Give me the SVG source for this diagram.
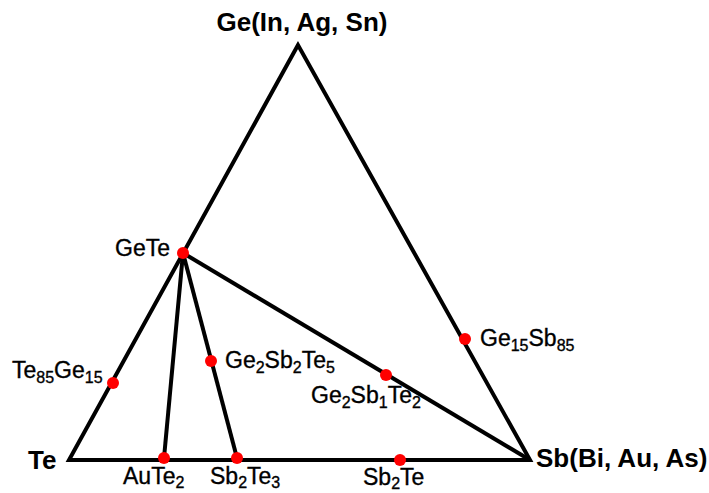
<svg xmlns="http://www.w3.org/2000/svg" width="709" height="493" viewBox="0 0 709 493">
<style>
.ln{stroke:#000;stroke-width:4;fill:none;stroke-linejoin:miter}
.dot{fill:#ff0000}
.b{font-family:"Liberation Sans",Arial,sans-serif;font-weight:bold;font-size:26px;fill:#000}
.t{font-family:"Liberation Sans",Arial,sans-serif;font-size:23px;fill:#000;stroke:#000;stroke-width:0.35}
.s{font-size:16px}
</style>
<rect width="709" height="493" fill="#fff"/>
<g id="connectors">
<polygon class="ln" points="298,45 69,460 530,460"/>
<line class="ln" x1="183" y1="253" x2="164" y2="458"/>
<line class="ln" x1="183" y1="253" x2="237" y2="458"/>
<line class="ln" x1="183" y1="253" x2="530" y2="460"/>
</g>
<g id="Ge"><text class="b" x="302" y="31" text-anchor="middle">Ge(In, Ag, Sn)</text></g>
<g id="Te"><text class="b" x="28" y="469">Te</text></g>
<g id="Sb"><text class="b" x="536" y="467">Sb(Bi, Au, As)</text></g>
<g id="GeTe"><circle class="dot" cx="183" cy="253" r="6"/><text class="t" x="115" y="256">GeTe</text></g>
<g id="Te85Ge15"><circle class="dot" cx="113" cy="383" r="6"/><text class="t" x="12" y="378">Te<tspan class="s" dy="5">85</tspan><tspan dy="-5">Ge</tspan><tspan class="s" dy="5">15</tspan></text></g>
<g id="Ge2Sb2Te5"><circle class="dot" cx="211" cy="361" r="6"/><text class="t" x="225" y="368">Ge<tspan class="s" dy="5">2</tspan><tspan dy="-5">Sb</tspan><tspan class="s" dy="5">2</tspan><tspan dy="-5">Te</tspan><tspan class="s" dy="5">5</tspan></text></g>
<g id="Ge2Sb1Te2"><circle class="dot" cx="386" cy="375" r="6"/><text class="t" x="311" y="403">Ge<tspan class="s" dy="5">2</tspan><tspan dy="-5">Sb</tspan><tspan class="s" dy="5">1</tspan><tspan dy="-5">Te</tspan><tspan class="s" dy="5">2</tspan></text></g>
<g id="Ge15Sb85"><circle class="dot" cx="465" cy="339" r="6"/><text class="t" x="480" y="346">Ge<tspan class="s" dy="5">15</tspan><tspan dy="-5">Sb</tspan><tspan class="s" dy="5">85</tspan></text></g>
<g id="AuTe2"><circle class="dot" cx="164" cy="458" r="6"/><text class="t" x="123" y="484">AuTe<tspan class="s" dy="4">2</tspan></text></g>
<g id="Sb2Te3"><circle class="dot" cx="237" cy="458" r="6"/><text class="t" x="210" y="484">Sb<tspan class="s" dy="4">2</tspan><tspan dy="-4">Te</tspan><tspan class="s" dy="4">3</tspan></text></g>
<g id="Sb2Te"><circle class="dot" cx="400" cy="460" r="6"/><text class="t" x="363" y="485">Sb<tspan class="s" dy="4">2</tspan><tspan dy="-4">Te</tspan></text></g>
</svg>
